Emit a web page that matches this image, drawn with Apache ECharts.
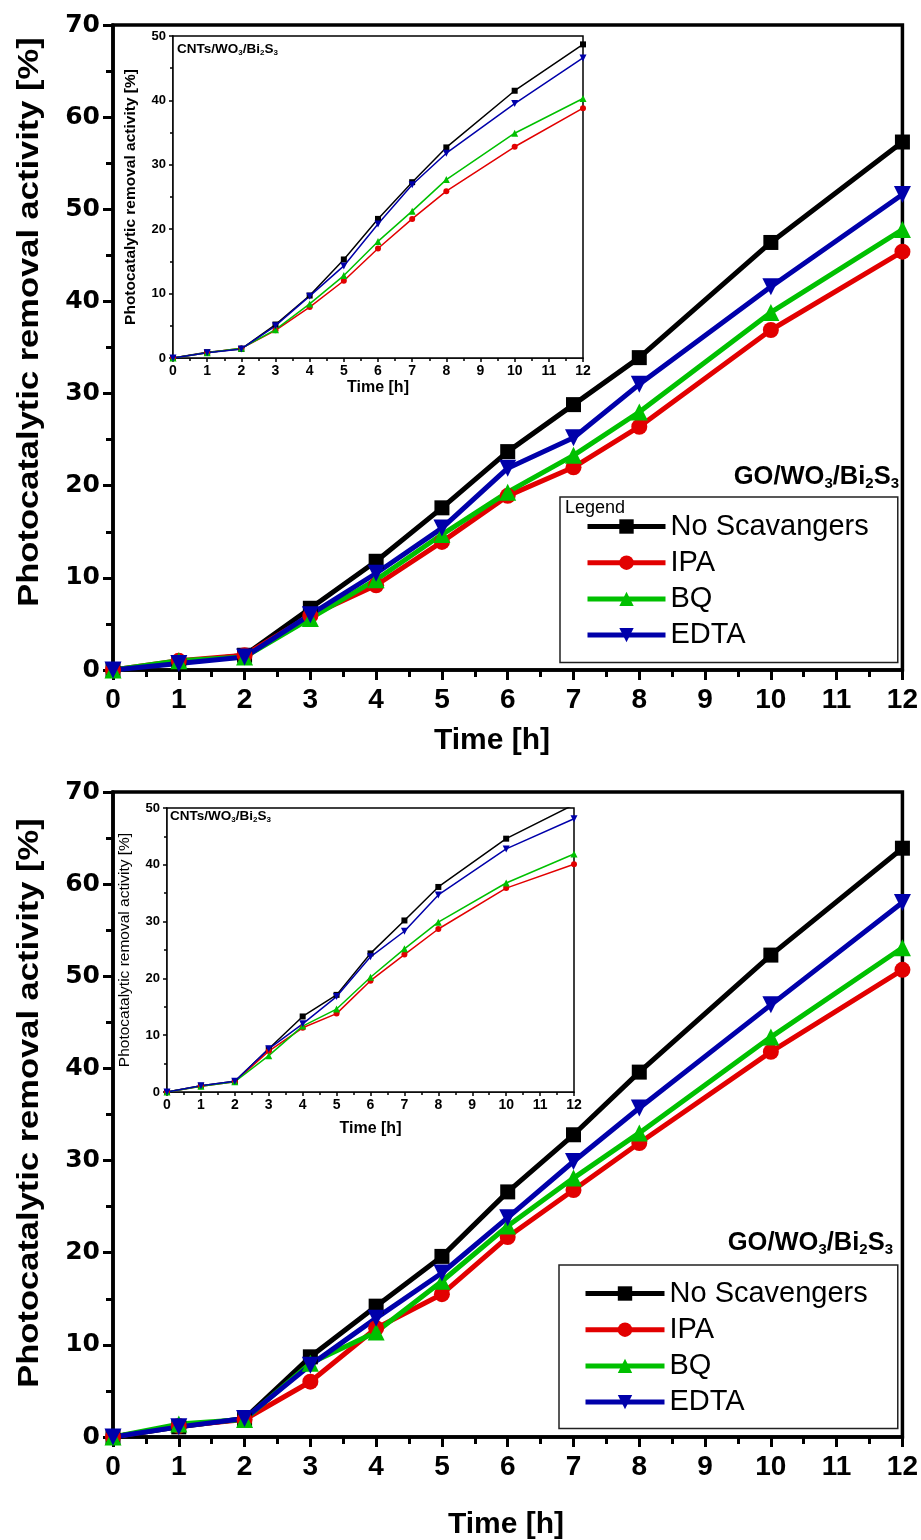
<!DOCTYPE html>
<html>
<head>
<meta charset="utf-8">
<script src="https://cdn.jsdelivr.net/npm/echarts@6/dist/echarts.min.js"></script>
<style>
html,body{margin:0;padding:0;background:#fff;}
#chart{width:921px;height:1540px;}
</style>
</head>
<body>
<div id="chart"></div>
<script>
// ---- data ----
var times = [0, 1, 2, 3, 4, 5, 6, 7, 8, 10, 12];
var xTicks = [0,1,2,3,4,5,6,7,8,9,10,11,12];

// Top panel (main)
var noScavTop = [0, 0.8, 1.6, 6.7, 11.8, 17.6, 23.7, 28.8, 33.9, 46.4, 57.3];
var ipaTop    = [0, 1.0, 1.6, 5.9, 9.2, 13.9, 18.9, 22.0, 26.4, 36.9, 45.4];
var bqTop     = [0, 1.0, 1.4, 5.6, 9.8, 14.7, 19.3, 23.3, 28.0, 38.8, 47.8];
var edtaTop   = [0, 0.7, 1.4, 6.0, 10.5, 15.4, 21.9, 25.2, 31.0, 41.6, 51.6];

// Top panel (inset)
var noScavTopIn = [0, 0.9, 1.4, 5.2, 9.7, 15.3, 21.6, 27.3, 32.7, 41.5, 48.7];
var ipaTopIn    = [0, 0.8, 1.5, 4.3, 7.9, 12.0, 17.0, 21.6, 25.9, 32.8, 38.8];
var bqTopIn     = [0, 0.8, 1.5, 4.4, 8.4, 12.8, 18.1, 22.8, 27.7, 34.9, 40.3];
var edtaTopIn   = [0, 0.8, 1.4, 5.0, 9.6, 14.3, 20.8, 26.9, 31.8, 39.5, 46.6];

// Bottom panel (main)
var noScavBot = [0, 1.1, 2.0, 8.7, 14.2, 19.6, 26.6, 32.8, 39.6, 52.3, 63.9];
var ipaBot    = [0, 1.2, 1.9, 6.0, 11.8, 15.5, 21.7, 26.8, 31.9, 41.8, 50.7];
var bqBot     = [0, 1.4, 1.9, 8.0, 11.4, 16.9, 22.9, 28.1, 33.0, 43.4, 53.1];
var edtaBot   = [0, 1.1, 2.0, 7.8, 12.9, 17.8, 23.8, 29.9, 35.7, 46.9, 58.0];

// Bottom panel (inset)
var noScavBotIn = [0, 1.1, 1.9, 7.6, 13.3, 17.1, 24.4, 30.2, 36.1, 44.6, 50.6];
var ipaBotIn    = [0, 1.0, 1.8, 7.2, 11.3, 13.8, 19.6, 24.2, 28.7, 35.9, 40.1];
var bqBotIn     = [0, 1.0, 1.8, 6.4, 11.6, 14.6, 20.2, 25.2, 29.9, 36.8, 41.9];
var edtaBotIn   = [0, 1.1, 1.9, 7.6, 12.0, 16.8, 23.8, 28.3, 34.7, 42.8, 48.1];

var namesTop = ['No Scavangers', 'IPA', 'BQ', 'EDTA'];
var namesBot = ['No Scavengers', 'IPA', 'BQ', 'EDTA'];
var yAxisTitle = 'Photocatalytic removal activity [%]';
var xAxisTitle = 'Time [h]';

// ---- styles ----
var colors = ['#000000', '#e20000', '#00c000', '#0000aa'];
var symbols = ['rect', 'circle', 'triangle', 'triangle'];
var rotates = [0, 0, 0, 180];
var mainSizes = [15, 16, 17, 17];
var inSizes = [6, 6, 7, 7];

function pairs(v) { return times.map(function (t, i) { return [t, v[i]]; }); }

function mkSeries(name, vals, k, idx, inset) {
  return {
    type: 'line', name: name, xAxisIndex: idx, yAxisIndex: idx,
    data: pairs(vals),
    symbol: symbols[k], symbolRotate: rotates[k],
    symbolSize: inset ? inSizes[k] : mainSizes[k],
    showSymbol: true,
    lineStyle: { color: colors[k], width: inset ? 1.5 : 5 },
    itemStyle: { color: colors[k] },
    z: inset ? 10 : 3,
    emphasis: { disabled: true },
    silent: true
  };
}

var series = [];
var topMain = [noScavTop, ipaTop, bqTop, edtaTop];
var botMain = [noScavBot, ipaBot, bqBot, edtaBot];
var topIn = [noScavTopIn, ipaTopIn, bqTopIn, edtaTopIn];
var botIn = [noScavBotIn, ipaBotIn, bqBotIn, edtaBotIn];
for (var k = 0; k < 4; k++) series.push(mkSeries(namesTop[k], topMain[k], k, 0, false));
for (var k = 0; k < 4; k++) series.push(mkSeries(namesBot[k], botMain[k], k, 1, false));
for (var k = 0; k < 4; k++) series.push(mkSeries(namesTop[k], topIn[k], k, 2, true));
for (var k = 0; k < 4; k++) series.push(mkSeries(namesBot[k], botIn[k], k, 3, true));

function mainX(idx) {
  return {
    type: 'value', gridIndex: idx, min: 0, max: 12, interval: 1,
    axisLine: { show: true, lineStyle: { color: '#000', width: 3.5 } },
    axisTick: { show: true, inside: false, length: 10, lineStyle: { color: '#000', width: 3 } },
    minorTick: { show: true, splitNumber: 2, length: 7, lineStyle: { color: '#000', width: 3 } },
    splitLine: { show: false },
    axisLabel: { margin: 16, color: '#000', fontSize: 28, fontWeight: 'bold', fontFamily: 'Arial, "Liberation Sans", sans-serif' }
  };
}
function mainY(idx) {
  return {
    type: 'value', gridIndex: idx, min: 0, max: 70, interval: 10,
    axisLine: { show: true, lineStyle: { color: '#000', width: 3.5 } },
    axisTick: { show: true, inside: false, length: 10, lineStyle: { color: '#000', width: 3 } },
    minorTick: { show: true, splitNumber: 2, length: 7, lineStyle: { color: '#000', width: 3 } },
    splitLine: { show: false },
    axisLabel: { margin: 13, color: '#000', fontSize: 25, fontWeight: 'bold', fontFamily: '"DejaVu Sans", sans-serif' }
  };
}
function inX(idx, gap) {
  return {
    type: 'value', gridIndex: idx, min: 0, max: 12, interval: 1,
    name: xAxisTitle, nameLocation: 'middle', nameGap: gap,
    nameTextStyle: { color: '#000', fontSize: 16, fontWeight: 'bold', fontFamily: 'Arial, sans-serif' },
    axisLine: { show: true, lineStyle: { color: '#000', width: 1.5 } },
    axisTick: { show: true, inside: false, length: 4, lineStyle: { color: '#000', width: 1.5 } },
    minorTick: { show: true, splitNumber: 2, length: 3, lineStyle: { color: '#000', width: 1.5 } },
    splitLine: { show: false },
    axisLabel: { margin: 6, color: '#000', fontSize: 14, fontWeight: 'bold', fontFamily: 'Arial, sans-serif' }
  };
}
function inY(idx, gap, weight) {
  return {
    type: 'value', gridIndex: idx, min: 0, max: 50, interval: 10,
    name: yAxisTitle, nameLocation: 'middle', nameGap: gap,
    nameTextStyle: { color: '#000', fontSize: 15.5, fontWeight: weight, fontFamily: 'Arial, sans-serif' },
    axisLine: { show: true, lineStyle: { color: '#000', width: 1.5 } },
    axisTick: { show: true, inside: false, length: 4, lineStyle: { color: '#000', width: 1.5 } },
    minorTick: { show: true, splitNumber: 2, length: 3, lineStyle: { color: '#000', width: 1.5 } },
    splitLine: { show: false },
    axisLabel: { margin: 7, color: '#000', fontSize: 13, fontWeight: 'bold', fontFamily: 'Arial, sans-serif' }
  };
}

function legendCfg(names, left, top, pad, iw) {
  return {
    orient: 'vertical', left: left, top: top, padding: pad,
    itemWidth: iw, itemHeight: 18, itemGap: 7.2, itemTextGap: 6,
    borderColor: '#222', borderWidth: 1.5, selectedMode: false,
    backgroundColor: '#fff',
    lineStyle: { width: 5 },
    textStyle: { color: '#000', fontSize: 29, fontFamily: 'Arial, sans-serif', lineHeight: 28 },
    data: names
  };
}

var richSub = function (big, small) {
  return {
    a: { fontSize: big, fontWeight: 'bold', fontFamily: 'Arial, sans-serif', color: '#000' },
    s: { fontSize: small, fontWeight: 'bold', fontFamily: 'Arial, sans-serif', color: '#000', padding: [Math.round(big * 0.55), 0, 0, 0] }
  };
};
var subText = '{a|GO/WO}{s|3}{a|/Bi}{s|2}{a|S}{s|3}';
var subTextIn = '{a|CNTs/WO}{s|3}{a|/Bi}{s|2}{a|S}{s|3}';

var option = {
  animation: false,
  backgroundColor: '#fff',
  grid: [
    { left: 113, top: 25, width: 790, height: 645, show: true, borderColor: '#000', borderWidth: 3.5, backgroundColor: 'transparent' },
    { left: 113, top: 792, width: 790, height: 645, show: true, borderColor: '#000', borderWidth: 3.5, backgroundColor: 'transparent' },
    { left: 173, top: 36, width: 410, height: 322, show: true, borderColor: '#000', borderWidth: 1.5, backgroundColor: '#fff', z: 5 },
    { left: 167, top: 808, width: 407, height: 284, show: true, borderColor: '#000', borderWidth: 1.5, backgroundColor: '#fff', z: 5 }
  ],
  xAxis: [mainX(0), mainX(1), inX(2, 22), inX(3, 29)],
  yAxis: [mainY(0), mainY(1), inY(2, 34, 'bold'), inY(3, 34, 'normal')],
  legend: [
    legendCfg(namesTop, 560, 497, [15, 29, 13, 25], 78),
    legendCfg(namesBot, 559, 1265, [14, 30, 12, 24], 79)
  ],
  title: [
    { text: subText, right: 22, top: 462, padding: 0, textStyle: { rich: richSub(25.5, 15) } },
    { text: subText, right: 28, top: 1228, padding: 0, textStyle: { rich: richSub(25.5, 15) } },
    { text: subTextIn, left: 177, top: 42, padding: 0, textStyle: { rich: richSub(13.5, 8) } },
    { text: subTextIn, left: 170, top: 809, padding: 0, textStyle: { rich: richSub(13.5, 8) } },
    { text: 'Legend', left: 565, top: 499, padding: 0, textStyle: { fontSize: 18, fontWeight: 'normal', fontFamily: 'Arial, sans-serif', color: '#000' } }
  ],
  graphic: [
    { type: 'text', x: 30, y: 322, rotation: Math.PI / 2, scaleX: 1.15, z: 20,
      style: { text: yAxisTitle, fill: '#000', fontSize: 30, fontWeight: 'bold', fontFamily: 'Arial, sans-serif', align: 'center', verticalAlign: 'middle' } },
    { type: 'text', x: 30, y: 1103, rotation: Math.PI / 2, scaleX: 1.15, z: 20,
      style: { text: yAxisTitle, fill: '#000', fontSize: 30, fontWeight: 'bold', fontFamily: 'Arial, sans-serif', align: 'center', verticalAlign: 'middle' } },
    { type: 'text', x: 492, y: 741, z: 20,
      style: { text: xAxisTitle, fill: '#000', fontSize: 30, fontWeight: 'bold', fontFamily: 'Arial, sans-serif', align: 'center', verticalAlign: 'middle' } },
    { type: 'text', x: 506, y: 1525, z: 20,
      style: { text: xAxisTitle, fill: '#000', fontSize: 30, fontWeight: 'bold', fontFamily: 'Arial, sans-serif', align: 'center', verticalAlign: 'middle' } }
  ],
  series: series
};

var chart = echarts.init(document.getElementById('chart'), null, { renderer: 'canvas' });
chart.setOption(option);
</script>
</body>
</html>
